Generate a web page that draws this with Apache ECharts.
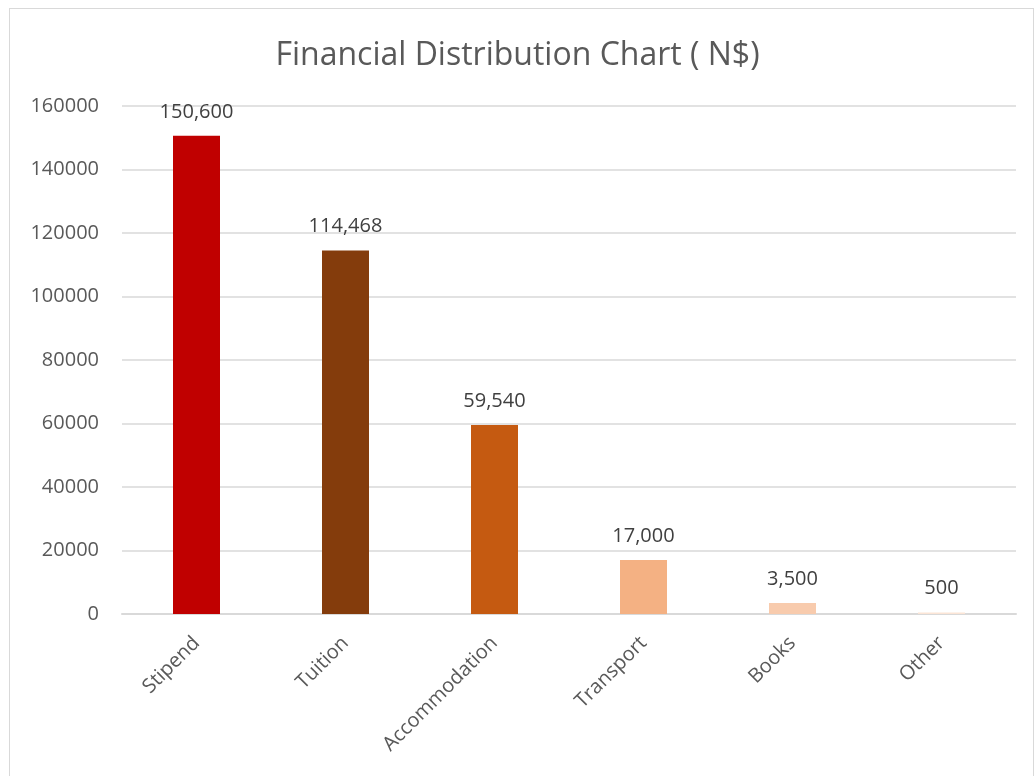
<!DOCTYPE html>
<html><head><meta charset="utf-8">
<script src="https://cdn.jsdelivr.net/npm/echarts@6/dist/echarts.min.js"></script>
<style>html,body{margin:0;padding:0;background:#fff}#c{width:1035px;height:776px}
#f{position:absolute;left:9px;top:8px;width:1025px;height:770px;border:1px solid #d9d9d9;box-sizing:border-box;pointer-events:none}</style>
</head><body><div id="c"></div><div id="f"></div>
<script>
const categories = ['Stipend','Tuition','Accommodation','Transport','Books','Other'];
const values = [150600, 114468, 59540, 17000, 3500, 500];
const colors = ['#C00000','#843C0C','#C55A11','#F4B183','#F8CBAD','#FBE5D6'];
const chart = echarts.init(document.getElementById('c'));
const font = '"Open Sans", "Noto Sans", sans-serif';
chart.setOption({
  animation:false,
  textStyle:{fontFamily:font},
  title:{text:'Financial Distribution Chart ( N$)',left:'center',top:35,
    textStyle:{fontFamily:font,fontSize:32,fontWeight:'normal',color:'#595959'}},
  grid:{left:122,right:19,top:106,bottom:162},
  xAxis:{type:'category',data:categories,
    axisLine:{lineStyle:{color:'#d9d9d9',width:2}},axisTick:{show:false},
    axisLabel:{rotate:45,fontSize:20,color:'#595959',fontFamily:font,margin:26}},
  yAxis:{type:'value',min:0,max:160000,interval:20000,
    axisLine:{show:false},axisTick:{show:false},
    splitLine:{lineStyle:{color:'#d9d9d9',width:1.5}},
    axisLabel:{fontSize:20,color:'#595959',fontFamily:font,margin:23,formatter:v=>String(v)}},
  series:[{type:'bar',barWidth:47,
    data:values.map((v,i)=>({value:v,itemStyle:{color:colors[i]}})),
    label:{show:true,position:'top',distance:14,fontSize:20,color:'#404040',fontFamily:font,
      formatter:p=>p.value.toLocaleString('en-US')}}]
});
</script></body></html>
